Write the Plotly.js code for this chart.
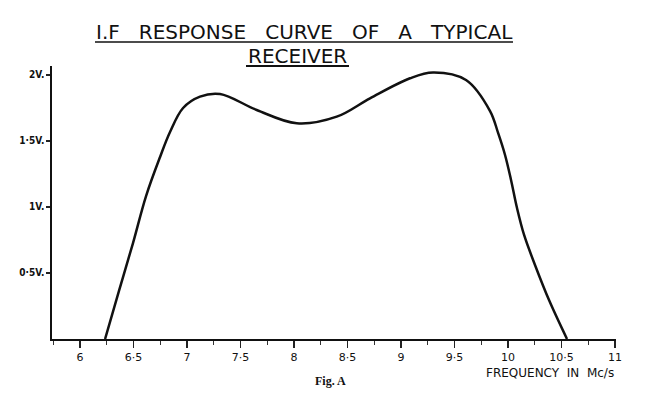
<!DOCTYPE html>
<html>
<head>
<meta charset="utf-8">
<script src="https://cdn.plot.ly/plotly-3.0.1.min.js"></script>
<style>html,body{margin:0;padding:0;background:#fff;}#chart{width:650px;height:397px;}</style>
</head>
<body>
<div id="chart"></div>
<script>
// Frequency (Mc/s) and response (volts)
var frequency = [6.234, 6.364, 6.495, 6.617, 6.748, 6.841, 6.963, 7.121, 7.308, 7.651, 8.025, 8.399, 8.710, 9.084, 9.299, 9.607, 9.832, 9.907, 9.972, 10.028, 10.084, 10.150, 10.252, 10.383, 10.551];
var volts     = [0, 0.364, 0.727, 1.083, 1.379, 1.568, 1.750, 1.836, 1.856, 1.735, 1.634, 1.684, 1.823, 1.975, 2.019, 1.962, 1.727, 1.561, 1.394, 1.205, 0.992, 0.788, 0.561, 0.295, 0];

var xTickVals = [6, 6.5, 7, 7.5, 8, 8.5, 9, 9.5, 10, 10.5, 11];
var xTickText = ["6", "6·5", "7", "7·5", "8", "8·5", "9", "9·5", "10", "10·5", "11"];
var yTickVals = [0.5, 1, 1.5, 2];
var yTickText = ["0·5V.", "1V.", "1·5V.", "2V."];

var S = "\u00A0\u00A0\u00A0";
var titleLine1 = "I.F" + S + "RESPONSE" + S + "CURVE" + S + "OF" + S + "A" + S + "TYPICAL";
var titleLine2 = "RECEIVER";
var xLabel = "FREQUENCY\u00A0\u00A0IN\u00A0\u00A0Mc/s";
var caption = "Fig. A";

var sans = "'DejaVu Sans', sans-serif";
var cond = "'DejaVu Sans Condensed', 'DejaVu Sans', sans-serif";

var trace = {
  x: frequency, y: volts, type: "scatter", mode: "lines",
  line: {color: "#111", width: 2.5, shape: "spline", smoothing: 1.0},
  hoverinfo: "skip"
};

// plot area: x 52..616, y 66..339
function px(x){ return (x - 52) / 564; }
function py(y){ return (339 - y) / 273; }

var layout = {
  width: 650, height: 397,
  margin: {l: 52, r: 34, t: 66, b: 58},
  paper_bgcolor: "#fff", plot_bgcolor: "#fff",
  showlegend: false,
  xaxis: {
    range: [5.738, 11.009], showgrid: false, zeroline: false,
    showline: true, linecolor: "#111", linewidth: 1.6,
    tickmode: "array", tickvals: xTickVals, ticktext: xTickText,
    ticks: "outside", ticklen: 7, tickwidth: 1.2, tickcolor: "#222",
    minor: {dtick: 0.25, tick0: 6, ticks: "outside", ticklen: 4, tickwidth: 1, tickcolor: "#333", showgrid: false},
    tickfont: {family: sans, size: 11, color: "#111"}
  },
  yaxis: {
    range: [0, 2.068], showgrid: false, zeroline: false,
    showline: true, linecolor: "#111", linewidth: 1.6,
    tickmode: "array", tickvals: yTickVals, ticktext: yTickText,
    ticks: "outside", ticklen: 4, tickwidth: 1.2, tickcolor: "#222",
    tickfont: {family: cond, size: 10, color: "#111", weight: "bold"}
  },
  annotations: [
    {text: titleLine1, xref: "paper", yref: "paper", x: px(304), y: py(32), showarrow: false,
     xanchor: "center", yanchor: "middle", font: {family: sans, size: 20, color: "#111"}},
    {text: titleLine2, xref: "paper", yref: "paper", x: px(297.5), y: py(56.5), showarrow: false,
     xanchor: "center", yanchor: "middle", font: {family: sans, size: 20, color: "#111"}},
    {text: xLabel, xref: "paper", yref: "paper", x: px(550), y: py(373), showarrow: false,
     xanchor: "center", yanchor: "middle", font: {family: sans, size: 12, color: "#111"}},
    {text: "<b>" + caption + "</b>", xref: "paper", yref: "paper", x: px(330), y: py(381), showarrow: false,
     xanchor: "center", yanchor: "middle", font: {family: "'Liberation Serif', 'DejaVu Serif', serif", size: 12, color: "#111"}}
  ],
  shapes: [
    {type: "line", xref: "paper", yref: "paper", x0: px(95), x1: px(513), y0: py(42), y1: py(42), line: {color: "#111", width: 1.5}},
    {type: "line", xref: "paper", yref: "paper", x0: px(246), x1: px(349), y0: py(66), y1: py(66), line: {color: "#111", width: 2}}
  ]
};

Plotly.newPlot("chart", [trace], layout, {staticPlot: true, displayModeBar: false});
</script>
</body>
</html>
